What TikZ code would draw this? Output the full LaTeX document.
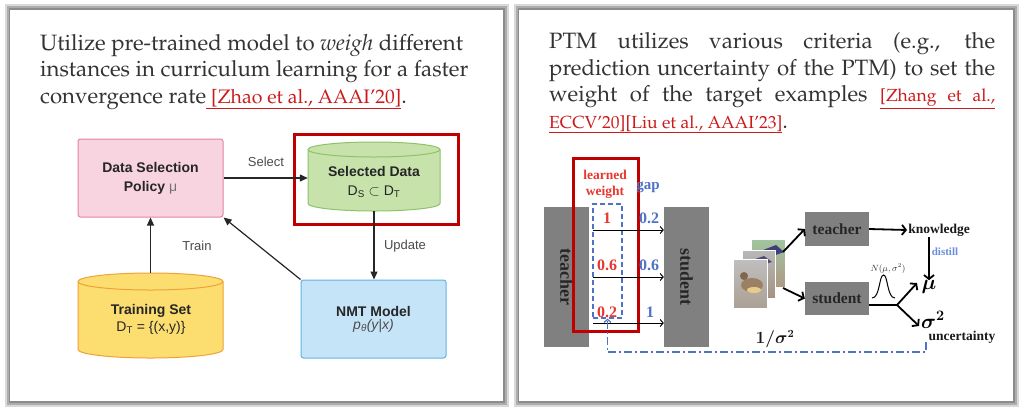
\documentclass[tikz,border=0pt]{standalone}
\usepackage{fontspec}
\setmainfont{Liberation Serif}
\newfontfamily\arialf{Liberation Sans}
\newfontfamily\timesf{Liberation Serif}
\usetikzlibrary{arrows.meta,calc}
\newcommand{\palat}{\fontencoding{OT1}\fontfamily{ppl}}
\newcommand{\citeul}[1]{\underline{#1}}
\newcommand{\bmath}[1]{{\mathversion{bold}$#1$}}
\definecolor{txt}{HTML}{333333}
\definecolor{citec}{HTML}{CC1A1A}
\definecolor{pinkf}{HTML}{F8D3E0}
\definecolor{pinkd}{HTML}{E4839F}
\definecolor{greenf}{HTML}{C8E2AC}
\definecolor{greend}{HTML}{8EC268}
\definecolor{bluef}{HTML}{C5E4F7}
\definecolor{blued}{HTML}{62B3E6}
\definecolor{yelf}{HTML}{FCDD70}
\definecolor{yeld}{HTML}{EFA23A}
\definecolor{framec}{HTML}{C00000}
\definecolor{boxgray}{HTML}{808080}
\definecolor{wred}{HTML}{E8372F}
\definecolor{wblue}{HTML}{4E72C6}
\definecolor{distc}{HTML}{6A8FDA}
\begin{document}
\begin{tikzpicture}[x=1pt,y=-1pt,
  ptext/.style={font=\palat\fontsize{22.2}{26}\selectfont, text=txt, inner sep=0pt, anchor=base west},
  lbox/.style={line width=1pt, rounded corners=2.5pt, minimum width=145pt, minimum height=78pt, align=center, inner sep=0pt, text=black!85},
  bfnt/.style={font=\arialf\bfseries\fontsize{14}{19}\selectfont},
  cfnt/.style={font=\arialf\fontsize{14}{17}\selectfont, text=black!85, align=center},
  llab/.style={font=\arialf\fontsize{13}{15}\selectfont, text=black!70},
  larr/.style={line width=1.2pt, draw=black!85, -{Triangle[length=8pt,width=7pt]}},
  gbox/.style={fill=boxgray, draw=none, inner sep=0pt, text=black!85},
  rfnt/.style={font=\timesf\bfseries\fontsize{18}{20}\selectfont},
  wnum/.style={font=\timesf\bfseries\fontsize{16}{18}\selectfont, inner sep=0pt},
  sarr/.style={line width=1pt, -{Straight Barb[length=3pt,width=7pt]}},
  rarr/.style={line width=1.8pt, -{Straight Barb[length=4pt,width=10pt]}},
  ddash/.style={line width=1.2pt, draw=wblue, dash pattern=on 8pt off 3pt on 2pt off 3pt, -{Straight Barb[length=3pt,width=7pt]}},
  mfnt/.style={font=\fontsize{#1}{#1}\selectfont, inner sep=0pt}
]
\useasboundingbox (0,0) rectangle (1024,408);
\fill[white] (0,0) rectangle (1024,408);
% panels
\fill[black!15] (5,4) rectangle (509,407);
\fill[black!32] (7,6) rectangle (507,405);
\fill[black!45] (8.5,8) rectangle (505,403);
\fill[white] (10,10) rectangle (503,401);
\fill[black!15] (514,4) rectangle (1019,407);
\fill[black!32] (516,6) rectangle (1017,405);
\fill[black!45] (517.5,8) rectangle (1015,403);
\fill[white] (519,10) rectangle (1013,401);

% ---------- left title ----------
\node[ptext] (t1) at (40,50) {Utilize pre-trained model to \textit{weigh} different};
\node[ptext] (t2) at (40,76.5) {instances in curriculum learning for a faster};
\node[ptext] (t3) at (40,103) {convergence rate{\fontsize{19.5}{24}\selectfont\color{citec}\citeul{\ [Zhao et al., AAAI'20]}}.};

% ---------- left diagram ----------
\node[lbox, fill=pinkf, draw=pinkd, bfnt] (pol) at (150.5,178) {Data Selection\\Policy {\mdseries\color{black!55}μ}};
\node[lbox, fill=bluef, draw=blued] (nmt) at (373.5,319) {{\arialf\bfseries\fontsize{14}{19}\selectfont NMT Model}\\[1pt]{\arialf\itshape\fontsize{14}{17}\selectfont\color{black!70}p\textsubscript{θ}(y|x)}};

% selected data cylinder
\node[minimum width=132pt, minimum height=69pt, inner sep=0pt] (sel) at (374,176.5) {};
\filldraw[fill=greenf, draw=greend, line width=1pt] (308,149.5) -- (308,203.5) arc[start angle=180, end angle=360, x radius=66pt, y radius=7.5pt] -- (440,149.5) arc[start angle=0, end angle=180, x radius=66pt, y radius=7.5pt] -- cycle;
\draw[greend, line width=1pt] (308,149.5) arc[start angle=180, end angle=360, x radius=66pt, y radius=7.5pt];
\node[cfnt] (seltxt) at (374,182) {{\bfseries Selected Data}\\[2pt]D\textsubscript{S} $\subset$ D\textsubscript{T}};
\node[draw=framec, line width=3pt, minimum width=164pt, minimum height=90pt, inner sep=0pt] (selfr) at (376,179) {};

% training set cylinder
\node[minimum width=145pt, minimum height=85pt, inner sep=0pt] (trn) at (150.5,315.5) {};
\filldraw[fill=yelf, draw=yeld, line width=1pt] (78,281.5) -- (78,349.5) arc[start angle=180, end angle=360, x radius=72.5pt, y radius=8.5pt] -- (223,281.5) arc[start angle=0, end angle=180, x radius=72.5pt, y radius=8.5pt] -- cycle;
\draw[yeld, line width=1pt] (78,281.5) arc[start angle=180, end angle=360, x radius=72.5pt, y radius=8.5pt];
\node[cfnt] (trntxt) at (151,319) {{\bfseries Training Set}\\[0pt]D\textsubscript{T} = \{(x,y)\}};

% connectors
\draw[larr] (pol.east) -- (pol.east -| sel.west);
\draw[larr] (sel.south) -- (sel.south |- nmt.north);
\draw[larr] (trn.north) -- (trn.north |- pol.south);
\draw[larr] (nmt.north west) -- (pol.south east);
\node[llab] (lsel) at (266,162) {Select};
\node[llab] (ltrn) at (197,246) {Train};
\node[llab] (lupd) at (405,246) {Update};

% ---------- right title ----------
\node[ptext] (r1) at (549,48) {\makebox[446pt][s]{PTM utilizes various criteria (e.g., the}};
\node[ptext] (r2) at (549,75) {\makebox[446pt][s]{prediction uncertainty of the PTM) to set the}};
\node[ptext] (r3) at (549,101.5) {\makebox[446pt][s]{weight of the target examples {\fontsize{17.5}{20}\selectfont\color{citec}\citeul{\makebox[115pt][s]{[Zhang et al.,}}}}};
\node[ptext] (r4) at (549,128) {{\fontsize{17.5}{20}\selectfont\color{citec}\citeul{ECCV'20]}\citeul{[Liu et al., AAAI'23]}}.};

% ---------- right diagram, left part ----------
\node[gbox, minimum width=45pt, minimum height=140pt] (tch1) at (566.5,277) {};
\node[gbox, minimum width=45pt, minimum height=140pt] (stu1) at (686.5,277) {};
\node[rfnt, rotate=-90, text=black!85] (tch1t) at (tch1) {teacher};
\node[rfnt, rotate=-90, text=black!85] (stu1t) at (stu1) {student};
\node[draw=framec, line width=3pt, minimum width=65pt, minimum height=173pt, inner sep=0pt] (wfr) at (605.5,244.5) {};
\node[draw=wblue, line width=1.3pt, dash pattern=on 5pt off 3pt, minimum width=29pt, minimum height=114pt, inner sep=0pt] (wbox) at (607.5,261) {};
\node[font=\timesf\bfseries\fontsize{13.5}{16.5}\selectfont, text=wred, align=center, inner sep=0pt] (lw) at (605,184.5) {learned\\weight};
\node[font=\timesf\bfseries\fontsize{15}{18}\selectfont, text=wblue, inner sep=0pt] (gap) at (648,187) {gap};
\coordinate (w1) at (593,230);
\coordinate (w2) at (593,277);
\coordinate (w3) at (593,323);
\draw[sarr] (w1) -- (w1 -| stu1.west);
\draw[sarr] (w2) -- (w2 -| stu1.west);
\draw[sarr] (w3) -- (w3 -| stu1.west);
\node[wnum, text=wred] (n1) at (607,218) {1};
\node[wnum, text=wred] (n2) at (607,265) {0.6};
\node[wnum, text=wred] (n3) at (607,312) {0.2};
\node[wnum, text=wblue] (g1) at (649,218) {0.2};
\node[wnum, text=wblue] (g2) at (649,265) {0.6};
\node[wnum, text=wblue] (g3) at (650,312) {1};

% ---------- right diagram, right part ----------
% image stack
\shade[top color=green!25!gray!60, bottom color=brown!40!gray!80] (751,239) rectangle (785,287);
\fill[blue!30!black!75] (758,252) -- (776,245) -- (784,252) -- (770,257) -- cycle;
\draw[white, line width=0.6pt] (751,239) rectangle (785,287);
\shade[top color=gray!55, bottom color=brown!30!gray!85] (742,250) rectangle (775,298);
\fill[blue!25!black!70] (746,262) -- (764,256) -- (772,262) -- (758,266) -- cycle;
\draw[white, line width=0.6pt] (742,250) rectangle (775,298);
\shade[top color=gray!50, bottom color=brown!25!gray!75] (733,259) rectangle (767,308);
\fill[brown!45!gray] (752,285) ellipse [x radius=11pt, y radius=7pt];
\fill[brown!50!black!80] (744,276) circle [radius=4pt];
\fill[yellow!30!brown!60!white] (754,290) ellipse [x radius=7pt, y radius=3pt];
\draw[white, line width=0.6pt] (733,259) rectangle (767,308);
\node[minimum width=52pt, minimum height=69pt, inner sep=0pt] (img) at (759,273.5) {};

\node[gbox, minimum width=64pt, minimum height=34pt, font=\timesf\bfseries\fontsize{15.5}{18}\selectfont] (tch2) at (837,229) {teacher};
\node[gbox, minimum width=64pt, minimum height=33pt, font=\timesf\bfseries\fontsize{15.5}{18}\selectfont] (stu2) at (837,298.5) {student};
\node[font=\timesf\bfseries\fontsize{13.5}{16}\selectfont, text=black!90, inner sep=1pt] (know) at (939,230) {knowledge};
\node[mfnt=20] (nmu) at (929,287) {\bmath{\mu}};
\node[mfnt=22] (nsig) at (933,320) {\bmath{\sigma^2}};
\node[font=\timesf\bfseries\fontsize{13.5}{16}\selectfont, text=black!90, inner sep=0pt] (unc) at (962,337) {uncertainty};
\node[font=\timesf\bfseries\fontsize{11}{13}\selectfont, text=distc, inner sep=0pt] (dist) at (945,252) {distill};
\node[mfnt=9, text=black!80] (nd) at (888,269) {$N(\mu,\sigma^2)$};
\node[mfnt=16, text=black!90] (inv) at (775,339) {\bmath{1/\sigma^2}};

\coordinate (ia) at (783,252);
\coordinate (ib) at (783,288);
\draw[rarr] (ia) -- (tch2.west);
\draw[rarr] (ib) -- (stu2.west);
\draw[rarr] (tch2.east) -- (know.west);
\draw[rarr] (nmu.north |- know.south) -- (nmu.north);
\coordinate (br) at (897,305);
\coordinate (tmu) at (917,283);
\coordinate (tsig) at (919,326);
\draw[line width=1.8pt] (br -| stu2.east) -- (br);
\draw[rarr] (br) -- (tmu);
\draw[rarr] (br) -- (tsig);
\draw[line width=1pt] (872,298) .. controls (880,298) and (879,275) .. (883.5,275) .. controls (888,275) and (887,298) .. (895,298);

\coordinate (dd0) at (926,342);
\coordinate (dd1) at (607.5,352);
\draw[ddash] (dd0) -- (dd0 |- dd1) -- (dd1) -- (wbox.south);
\end{tikzpicture}
\end{document}
